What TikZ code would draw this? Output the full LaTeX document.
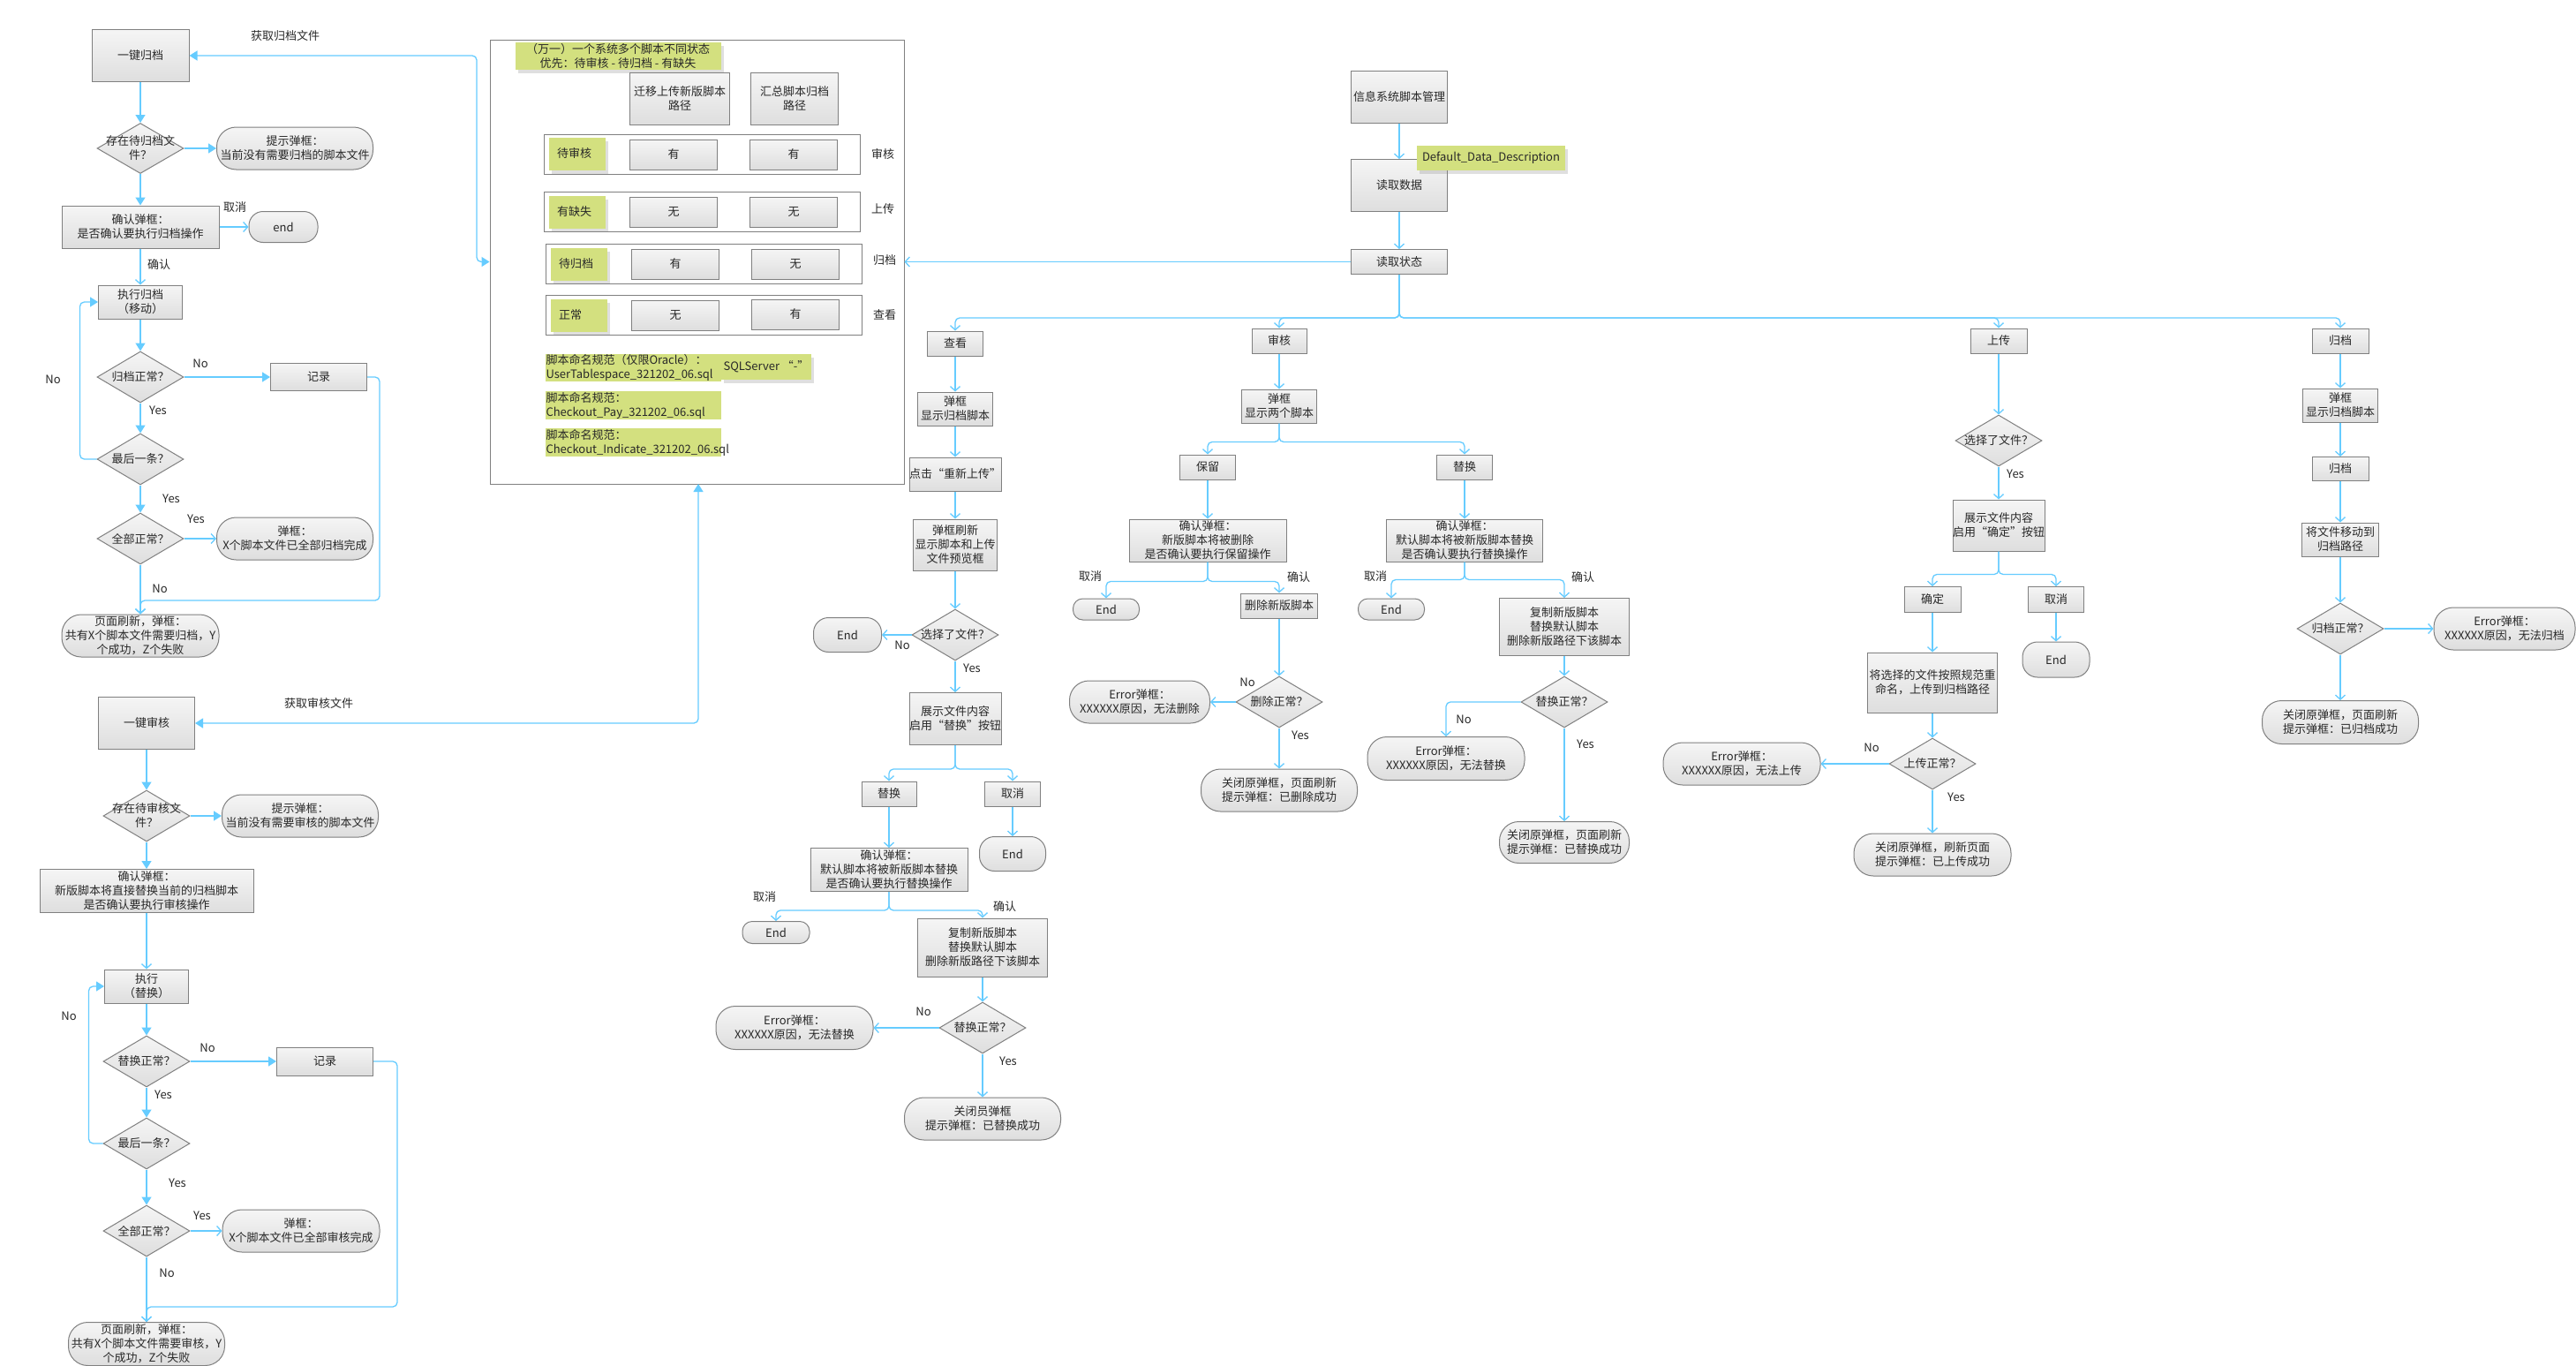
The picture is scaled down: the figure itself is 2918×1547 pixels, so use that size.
\documentclass[tikz,border=0pt]{standalone}
\usepackage{fontspec}
\setmainfont{Noto Sans CJK SC}
\usetikzlibrary{shapes.geometric,arrows.meta,shadows}
\definecolor{lblue}{RGB}{102,204,255}
\definecolor{bord}{RGB}{128,128,128}
\definecolor{topg}{RGB}{245,245,245}
\definecolor{botg}{RGB}{222,222,222}
\definecolor{gcol}{RGB}{211,224,127}
\definecolor{txt}{RGB}{40,40,40}
\begin{document}
\begin{tikzpicture}[x=1pt,y=-1pt,
  every node/.append style={font=\fontsize{13}{16}\selectfont, text=txt},
  sz/.style 2 args={minimum width=#1pt, minimum height=#2pt},
  box/.style={draw=bord, line width=1pt, top color=topg, bottom color=botg, inner sep=0pt, align=center},
  term/.style={box, rounded corners=#1},
  term/.default=22pt,
  dia/.style={box, shape=diamond},
  dtx/.style={inner sep=0pt, align=center},
  frm/.style={draw=bord, line width=1pt, inner sep=0pt},
  gsh/.style={drop shadow={shadow xshift=3pt, shadow yshift=-4pt, opacity=0.25}},
  gnote/.style={fill=gcol, inner sep=0pt},
  lab/.style={inner sep=1pt},
  ln/.style={draw=lblue, line width=1.3pt, rounded corners=5pt},
  oa/.style={ln, -{Straight Barb[length=5pt,width=11pt]}},
  fa/.style={ln, -{Triangle[length=9pt,width=11pt]}},
  fab/.style={ln, {Triangle[length=9pt,width=11pt]}-{Triangle[length=9pt,width=11pt]}}
]
\fill[white] (0,0) rectangle (2918,1547);
\useasboundingbox (0,0) rectangle (2918,1547);

% ================= Big state box =================
\node[frm, sz={469}{503}] (bigbox) at (789.5,296.5) {};
\node[gnote, gsh, sz={233}{31}, align=center] (title) at (700,63) {（万一）一个系统多个脚本不同状态\\优先：待审核 - 待归档 - 有缺失};
\node[box, sz={113}{59}] (h1) at (770,112) {迁移上传新版脚本\\路径};
\node[box, sz={99}{59}] (h2) at (900,112) {汇总脚本归档\\路径};

\node[frm, sz={358}{45}] (r1) at (795,175) {};
\node[frm, sz={358}{45}] (r2) at (795,240) {};
\node[frm, sz={358}{45}] (r3) at (797,299) {};
\node[frm, sz={358}{45}] (r4) at (797,357) {};
\node[gnote, gsh, minimum height=37pt, text width=46pt, inner xsep=9pt, align=left] (g1) at (654,174) {待审核};
\node[gnote, gsh, minimum height=37pt, text width=46pt, inner xsep=9pt, align=left] (g2) at (654,240) {有缺失};
\node[gnote, gsh, minimum height=37pt, text width=46pt, inner xsep=9pt, align=left] (g3) at (656,299) {待归档};
\node[gnote, gsh, minimum height=37pt, text width=46pt, inner xsep=9pt, align=left] (g4) at (656,357) {正常};
\node[box, sz={99}{34}] (c11) at (763,175) {有};
\node[box, sz={99}{34}] (c12) at (899,175) {有};
\node[box, sz={99}{34}] (c21) at (763,240) {无};
\node[box, sz={99}{34}] (c22) at (899,240) {无};
\node[box, sz={99}{34}] (c31) at (765,299) {有};
\node[box, sz={99}{34}] (c32) at (901,299) {无};
\node[box, sz={99}{34}] (c41) at (765,357) {无};
\node[box, sz={99}{34}] (c42) at (901,356) {有};
\node[lab] (rl1) at (1000,175) {审核};
\node[lab] (rl2) at (1000,237) {上传};
\node[lab] (rl3) at (1002,295) {归档};
\node[lab] (rl4) at (1002,357) {查看};

\node[gnote, minimum height=31pt, text width=197pt, inner xsep=1pt, align=left] (n1) at (717,416) {脚本命名规范（仅限Oracle）：\\UserTablespace\_321202\_06.sql};
\node[gnote, gsh, sz={102}{29}, align=center] (n2) at (868,415) {SQLServer “-”};
\node[gnote, minimum height=32pt, text width=197pt, inner xsep=1pt, align=left] (n3) at (717,459) {脚本命名规范：\\Checkout\_Pay\_321202\_06.sql};
\node[gnote, minimum height=32pt, text width=197pt, inner xsep=1pt, align=left] (n4) at (717,501) {脚本命名规范：\\Checkout\_Indicate\_321202\_06.sql};

% ================= Left column: 一键归档 =================
\node[box, sz={110}{59}] (a1) at (159,63) {一键归档};
\node[dia, sz={98}{57}] (a2) at (159,168) {};
\node[dtx] (a2t) at (a2) {存在待归档文\\件？};
\node[term, sz={177}{48}] (a3) at (334,168) {提示弹框：\\当前没有需要归档的脚本文件};
\node[box, sz={178}{48}] (a4) at (159,257) {确认弹框：\\是否确认要执行归档操作};
\node[term=16pt, sz={78}{35}] (a5) at (321,257) {end};
\node[box, sz={95}{38}] (a6) at (159,342) {执行归档\\（移动）};
\node[dia, sz={98}{58}] (a7) at (159,427) {};
\node[dtx] (a7t) at (a7) {归档正常？};
\node[box, sz={109}{31}] (a8) at (361,427) {记录};
\node[dia, sz={98}{58}] (a9) at (159,520) {};
\node[dtx] (a9t) at (a9) {最后一条？};
\node[dia, sz={98}{58}] (a10) at (159,610) {};
\node[dtx] (a10t) at (a10) {全部正常？};
\node[term, sz={177}{48}] (a11) at (334,610) {弹框：\\X个脚本文件已全部归档完成};
\node[term, sz={178}{48}] (a12) at (159,720) {页面刷新，弹框：\\共有X个脚本文件需要归档，Y\\个成功，Z个失败};

\coordinate (j1) at (540,296.5);
\draw[fab] (a1.east) -| (j1) -- (bigbox.west);
\draw[fa] (a1.south) -- (a2.north);
\draw[fa] (a2.east) -- (a3.west);
\draw[fa] (a2.south) -- (a4.north);
\draw[oa] (a4.east) -- (a5.west);
\draw[oa] (a4.south) -- (a6.north);
\draw[fa] (a6.south) -- (a7.north);
\draw[fa] (a7.east) -- (a8.west);
\draw[fa] (a7.south) -- (a9.north);
\draw[fa] (a9.west) -- ++(-19,0) |- (a6.west);
\draw[fa] (a9.south) -- (a10.north);
\draw[oa] (a10.east) -- (a11.west);
\draw[oa] (a10.south) -- (a12.north);
\draw[oa] (a8.east) -| (430,680) -| (a12.north);

\node[lab] (la1) at (323,41) {获取归档文件};
\node[lab] (la2) at (266,235) {取消};
\node[lab] (la3) at (180,300) {确认};
\node[lab] (la4) at (227,412) {No};
\node[lab] (la5) at (60,430) {No};
\node[lab] (la6) at (179,465) {Yes};
\node[lab] (la7) at (194,565) {Yes};
\node[lab] (la8) at (222,588) {Yes};
\node[lab] (la9) at (181,667) {No};

% ================= Left column: 一键审核 =================
\node[box, sz={109}{59}] (b1) at (166,819) {一键审核};
\node[dia, sz={98}{58}] (b2) at (166,924) {};
\node[dtx] (b2t) at (b2) {存在待审核文\\件？};
\node[term, sz={177}{48}] (b3) at (340,924) {提示弹框：\\当前没有需要审核的脚本文件};
\node[box, sz={242}{49}] (b4) at (166,1009) {确认弹框：\\新版脚本将直接替换当前的归档脚本\\是否确认要执行审核操作};
\node[box, sz={95}{38}] (b5) at (166,1117) {执行\\（替换）};
\node[dia, sz={98}{58}] (b6) at (166,1202) {};
\node[dtx] (b6t) at (b6) {替换正常？};
\node[box, sz={109}{32}] (b7) at (368,1202) {记录};
\node[dia, sz={98}{58}] (b8) at (166,1295) {};
\node[dtx] (b8t) at (b8) {最后一条？};
\node[dia, sz={98}{58}] (b9) at (166,1394) {};
\node[dtx] (b9t) at (b9) {全部正常？};
\node[term, sz={178}{48}] (b10) at (341,1394) {弹框：\\X个脚本文件已全部审核完成};
\node[term, sz={177}{49}] (b11) at (166,1522) {页面刷新，弹框：\\共有X个脚本文件需要审核，Y\\个成功，Z个失败};

\coordinate (bbs) at (791,548);
\draw[fab] (b1.east) -| (bbs);
\draw[fa] (b1.south) -- (b2.north);
\draw[fa] (b2.east) -- (b3.west);
\draw[fa] (b2.south) -- (b4.north);
\draw[oa] (b4.south) -- (b5.north);
\draw[fa] (b5.south) -- (b6.north);
\draw[fa] (b6.east) -- (b7.west);
\draw[fa] (b6.south) -- (b8.north);
\draw[fa] (b8.west) -- ++(-16,0) |- (b5.west);
\draw[fa] (b8.south) -- (b9.north);
\draw[oa] (b9.east) -- (b10.west);
\draw[oa] (b9.south) -- (b11.north);
\draw[oa] (b7.east) -| (450,1480) -| (b11.north);

\node[lab] (lb1) at (361,797) {获取审核文件};
\node[lab] (lb2) at (78,1151) {No};
\node[lab] (lb3) at (235,1187) {No};
\node[lab] (lb4) at (185,1240) {Yes};
\node[lab] (lb5) at (201,1340) {Yes};
\node[lab] (lb6) at (229,1377) {Yes};
\node[lab] (lb7) at (189,1442) {No};

% ================= Top centre =================
\node[box, sz={109}{59}] (t1) at (1585,110) {信息系统脚本管理};
\node[box, sz={109}{59}] (t2) at (1585,210) {读取数据};
\node[gnote, gsh, sz={168}{28}, align=center] (t3) at (1689,179) {Default\_Data\_Description};
\node[box, sz={109}{28}] (t4) at (1585,296.5) {读取状态};
\draw[oa] (t1.south) -- (t2.north);
\draw[oa] (t2.south) -- (t4.north);
\draw[oa] (t4.west) -- (bigbox.east);
\coordinate (bus) at (1585,360);

% ================= 查看 =================
\node[box, sz={63}{28}] (k1) at (1082,389) {查看};
\node[box, sz={85}{38}] (k2) at (1082,463) {弹框\\显示归档脚本};
\node[box, sz={95}{38}] (k3) at (1082,537) {点击“重新上传”};
\node[box, sz={95}{58}] (k4) at (1082,617) {弹框刷新\\显示脚本和上传\\文件预览框};
\node[dia, sz={98}{58}] (k5) at (1082,719) {};
\node[dtx] (k5t) at (k5) {选择了文件？};
\node[term=17pt, sz={77}{39}] (k6) at (960,719) {End};
\node[box, sz={95}{59}] (k7) at (1082,814) {展示文件内容\\启用“替换”按钮};
\node[box, sz={62}{28}] (k8) at (1007,899) {替换};
\node[box, sz={63}{28}] (k9) at (1147,899) {取消};
\node[term=17pt, sz={75}{39}] (k10) at (1147,967) {End};
\node[box, sz={178}{49}] (k11) at (1007,985) {确认弹框：\\默认脚本将被新版脚本替换\\是否确认要执行替换操作};
\node[term=11pt, sz={76}{25}] (k12) at (879,1056) {End};
\node[box, sz={147}{66}] (k13) at (1113,1073) {复制新版脚本\\替换默认脚本\\删除新版路径下该脚本};
\node[dia, sz={98}{58}] (k14) at (1113,1164) {};
\node[dtx] (k14t) at (k14) {替换正常？};
\node[term, sz={178}{49}] (k15) at (900,1164) {Error弹框：\\XXXXXX原因，无法替换};
\node[term, sz={177}{48}] (k16) at (1113,1267) {关闭员弹框\\提示弹框：已替换成功};

\draw[oa] (t4.south) -- (bus) -| (k1.north);
\draw[oa] (k1.south) -- (k2.north);
\draw[oa] (k2.south) -- (k3.north);
\draw[oa] (k3.south) -- (k4.north);
\draw[oa] (k4.south) -- (k5.north);
\draw[oa] (k5.west) -- (k6.east);
\draw[oa] (k5.south) -- (k7.north);
\draw[oa] (k7.south) -- ++(0,27) -| (k8.north);
\draw[oa] (k7.south) -- ++(0,27) -| (k9.north);
\draw[oa] (k8.south) -- (k11.north);
\draw[oa] (k9.south) -- (k10.north);
\draw[oa] (k11.south) -- ++(0,21) -| (k12.north);
\draw[oa] (k11.south) -- ++(0,21) -| (k13.north);
\draw[oa] (k13.south) -- (k14.north);
\draw[oa] (k14.west) -- (k15.east);
\draw[oa] (k14.south) -- (k16.north);

\node[lab] (lk1) at (1022,731) {No};
\node[lab] (lk2) at (1101,757) {Yes};
\node[lab] (lk3) at (866,1016) {取消};
\node[lab] (lk4) at (1138,1027) {确认};
\node[lab] (lk5) at (1046,1146) {No};
\node[lab] (lk6) at (1142,1202) {Yes};

% ================= 审核 =================
\node[box, sz={62}{28}] (s1) at (1449,386) {审核};
\node[box, sz={85}{38}] (s2) at (1449,460) {弹框\\显示两个脚本};
\node[box, sz={63}{28}] (s3) at (1368,529) {保留};
\node[box, sz={63}{28}] (s4) at (1659,529) {替换};
\node[box, sz={178}{48}] (s5) at (1368,612) {确认弹框：\\新版脚本将被删除\\是否确认要执行保留操作};
\node[box, sz={177}{48}] (s6) at (1659,612) {确认弹框：\\默认脚本将被新版脚本替换\\是否确认要执行替换操作};
\node[term=11pt, sz={75}{24}] (s7) at (1253,690) {End};
\node[box, sz={87}{28}] (s8) at (1449,686) {删除新版脚本};
\node[dia, sz={98}{58}] (s9) at (1449,795) {};
\node[dtx] (s9t) at (s9) {删除正常？};
\node[term, sz={159}{48}] (s10) at (1291,795) {Error弹框：\\XXXXXX原因，无法删除};
\node[term, sz={177}{48}] (s11) at (1449,895) {关闭原弹框，页面刷新\\提示弹框：已删除成功};
\node[term=11pt, sz={75}{24}] (s12) at (1576,690) {End};
\node[box, sz={147}{65}] (s13) at (1772,710) {复制新版脚本\\替换默认脚本\\删除新版路径下该脚本};
\node[dia, sz={98}{58}] (s14) at (1772,795) {};
\node[dtx] (s14t) at (s14) {替换正常？};
\node[term, sz={178}{49}] (s15) at (1638,859) {Error弹框：\\XXXXXX原因，无法替换};
\node[term, sz={147}{47}] (s16) at (1772,954) {关闭原弹框，页面刷新\\提示弹框：已替换成功};

\draw[oa] (t4.south) -- (bus) -| (s1.north);
\draw[oa] (s1.south) -- (s2.north);
\draw[oa] (s2.south) -- ++(0,21) -| (s3.north);
\draw[oa] (s2.south) -- ++(0,21) -| (s4.north);
\draw[oa] (s3.south) -- (s5.north);
\draw[oa] (s4.south) -- (s6.north);
\draw[oa] (s5.south) -- ++(0,22) -| (s7.north);
\draw[oa] (s5.south) -- ++(0,22) -| (s8.north);
\draw[oa] (s8.south) -- (s9.north);
\draw[oa] (s9.west) -- (s10.east);
\draw[oa] (s9.south) -- (s11.north);
\draw[oa] (s6.south) -- ++(0,20) -| (s12.north);
\draw[oa] (s6.south) -- ++(0,20) -| (s13.north);
\draw[oa] (s13.south) -- (s14.north);
\draw[oa] (s14.west) -| (s15.north);
\draw[oa] (s14.south) -- (s16.north);

\node[lab] (ls1) at (1235,653) {取消};
\node[lab] (ls2) at (1471,654) {确认};
\node[lab] (ls3) at (1413,773) {No};
\node[lab] (ls4) at (1473,833) {Yes};
\node[lab] (ls5) at (1558,653) {取消};
\node[lab] (ls6) at (1793,654) {确认};
\node[lab] (ls7) at (1658,815) {No};
\node[lab] (ls8) at (1796,843) {Yes};

% ================= 上传 =================
\node[box, sz={64}{28}] (u1) at (2264,386) {上传};
\node[dia, sz={98}{58}] (u2) at (2264,499) {};
\node[dtx] (u2t) at (u2) {选择了文件？};
\node[box, sz={96}{58}] (u3) at (2264,595) {展示文件内容\\启用“确定”按钮};
\node[box, sz={64}{29}] (u4) at (2189,679) {确定};
\node[box, sz={63}{29}] (u5) at (2329,679) {取消};
\node[term=17pt, sz={76}{40}] (u6) at (2329,747) {End};
\node[box, sz={147}{68}] (u7) at (2189,773) {将选择的文件按照规范重\\命名，上传到归档路径};
\node[dia, sz={98}{58}] (u8) at (2189,865) {};
\node[dtx] (u8t) at (u8) {上传正常？};
\node[term, sz={178}{48}] (u9) at (1973,865) {Error弹框：\\XXXXXX原因，无法上传};
\node[term, sz={178}{48}] (u10) at (2189,968) {关闭原弹框，刷新页面\\提示弹框：已上传成功};

\draw[oa] (t4.south) -- (bus) -| (u1.north);
\draw[oa] (u1.south) -- (u2.north);
\draw[oa] (u2.south) -- (u3.north);
\draw[oa] (u3.south) -- ++(0,26) -| (u4.north);
\draw[oa] (u3.south) -- ++(0,26) -| (u5.north);
\draw[oa] (u4.south) -- (u7.north);
\draw[oa] (u5.south) -- (u6.north);
\draw[oa] (u7.south) -- (u8.north);
\draw[oa] (u8.west) -- (u9.east);
\draw[oa] (u8.south) -- (u10.north);

\node[lab] (lu1) at (2283,537) {Yes};
\node[lab] (lu2) at (2120,847) {No};
\node[lab] (lu3) at (2216,903) {Yes};

% ================= 归档 =================
\node[box, sz={64}{28}] (v1) at (2651,386) {归档};
\node[box, sz={85}{38}] (v2) at (2651,459) {弹框\\显示归档脚本};
\node[box, sz={64}{27}] (v3) at (2651,531) {归档};
\node[box, sz={87}{38}] (v4) at (2651,611) {将文件移动到\\归档路径};
\node[dia, sz={98}{58}] (v5) at (2651,712) {};
\node[dtx] (v5t) at (v5) {归档正常？};
\node[term, sz={160}{48}] (v6) at (2837,712) {Error弹框：\\XXXXXX原因，无法归档};
\node[term, sz={177}{49}] (v7) at (2651,818) {关闭原弹框，页面刷新\\提示弹框：已归档成功};

\draw[oa] (t4.south) -- (bus) -| (v1.north);
\draw[oa] (v1.south) -- (v2.north);
\draw[oa] (v2.south) -- (v3.north);
\draw[oa] (v3.south) -- (v4.north);
\draw[oa] (v4.south) -- (v5.north);
\draw[oa] (v5.east) -- (v6.west);
\draw[oa] (v5.south) -- (v7.north);
\end{tikzpicture}
\end{document}
